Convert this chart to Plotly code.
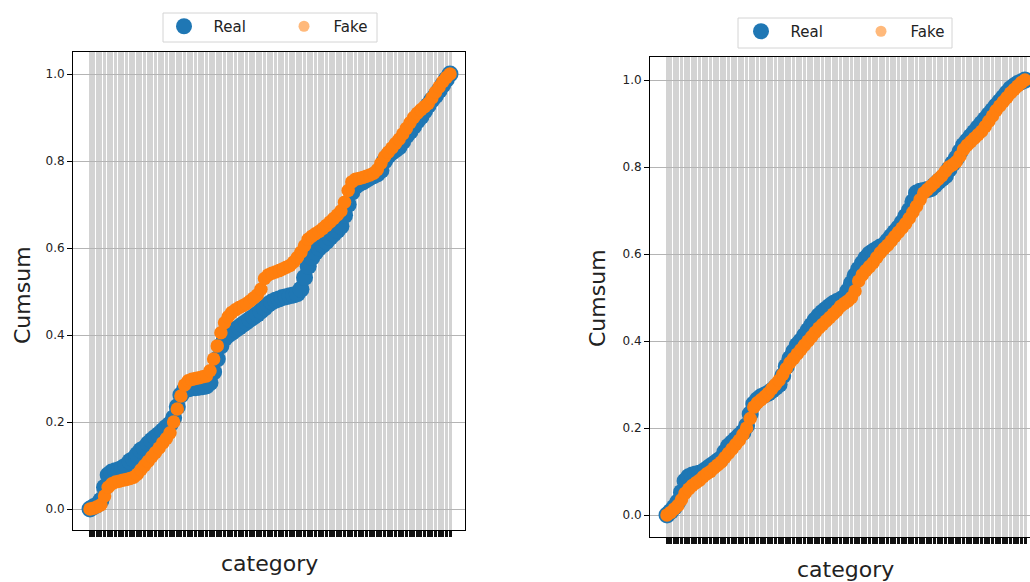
import plotly.graph_objects as go

# Category axis (labels are not printed, only tick marks)
categories = [f"cat_{i:03d}" for i in range(100)]

# Cumulative share per category, first panel
real_left = [
    0.000, 0.005, 0.010, 0.020, 0.050, 0.078, 0.085, 0.088, 0.090, 0.095,
    0.100, 0.110, 0.115, 0.125, 0.135, 0.140, 0.150, 0.158, 0.165, 0.172,
    0.180, 0.188, 0.195, 0.210, 0.235, 0.262, 0.274, 0.276, 0.278, 0.279,
    0.280, 0.281, 0.283, 0.290, 0.315, 0.345, 0.375, 0.392, 0.400, 0.406,
    0.412, 0.418, 0.424, 0.430, 0.436, 0.442, 0.448, 0.455, 0.462, 0.470,
    0.476, 0.480, 0.483, 0.486, 0.488, 0.490, 0.492, 0.495, 0.505, 0.532,
    0.558, 0.578, 0.590, 0.600, 0.607, 0.615, 0.624, 0.632, 0.640, 0.650,
    0.675, 0.700, 0.728, 0.742, 0.748, 0.752, 0.757, 0.762, 0.766, 0.770,
    0.778, 0.800, 0.812, 0.820, 0.826, 0.832, 0.845, 0.858, 0.868, 0.880,
    0.892, 0.902, 0.915, 0.928, 0.940, 0.950, 0.962, 0.975, 0.988, 1.000,
]
fake_left = [
    0.000, 0.002, 0.005, 0.010, 0.030, 0.050, 0.058, 0.062, 0.064, 0.066,
    0.068, 0.070, 0.073, 0.080, 0.090, 0.100, 0.110, 0.120, 0.130, 0.140,
    0.152, 0.162, 0.175, 0.200, 0.230, 0.260, 0.285, 0.295, 0.298, 0.300,
    0.302, 0.304, 0.306, 0.318, 0.345, 0.375, 0.405, 0.428, 0.442, 0.452,
    0.458, 0.463, 0.467, 0.472, 0.478, 0.485, 0.492, 0.505, 0.530, 0.538,
    0.542, 0.545, 0.548, 0.552, 0.556, 0.560, 0.568, 0.578, 0.590, 0.605,
    0.620, 0.627, 0.633, 0.638, 0.645, 0.652, 0.660, 0.668, 0.676, 0.685,
    0.705, 0.732, 0.752, 0.758, 0.760, 0.762, 0.765, 0.768, 0.772, 0.780,
    0.795, 0.810, 0.820, 0.830, 0.840, 0.850, 0.862, 0.875, 0.888, 0.900,
    0.910, 0.918, 0.925, 0.932, 0.945, 0.958, 0.970, 0.982, 0.992, 1.000,
]

# Cumulative share per category, second panel
real_right = [
    0.000, 0.008, 0.018, 0.030, 0.052, 0.078, 0.088, 0.092, 0.094, 0.096,
    0.100, 0.106, 0.112, 0.118, 0.124, 0.130, 0.145, 0.158, 0.166, 0.174,
    0.182, 0.190, 0.205, 0.232, 0.255, 0.265, 0.272, 0.276, 0.280, 0.286,
    0.293, 0.300, 0.320, 0.342, 0.360, 0.375, 0.390, 0.400, 0.412, 0.424,
    0.436, 0.448, 0.458, 0.466, 0.473, 0.480, 0.486, 0.491, 0.495, 0.500,
    0.515, 0.532, 0.550, 0.565, 0.578, 0.590, 0.600, 0.606, 0.611, 0.616,
    0.620, 0.630, 0.640, 0.650, 0.660, 0.672, 0.686, 0.700, 0.720, 0.740,
    0.744, 0.746, 0.748, 0.750, 0.758, 0.766, 0.773, 0.780, 0.795, 0.808,
    0.820, 0.835, 0.850, 0.860, 0.870, 0.880, 0.890, 0.900, 0.910, 0.920,
    0.930, 0.940, 0.950, 0.960, 0.970, 0.980, 0.986, 0.992, 0.996, 1.000,
]
fake_right = [
    0.000, 0.006, 0.014, 0.022, 0.035, 0.050, 0.060, 0.068, 0.074, 0.080,
    0.088, 0.095, 0.100, 0.108, 0.115, 0.122, 0.132, 0.142, 0.152, 0.162,
    0.172, 0.185, 0.200, 0.222, 0.248, 0.258, 0.265, 0.272, 0.280, 0.290,
    0.300, 0.310, 0.323, 0.337, 0.350, 0.360, 0.370, 0.380, 0.390, 0.400,
    0.410, 0.420, 0.430, 0.438, 0.446, 0.454, 0.462, 0.470, 0.480, 0.486,
    0.492, 0.500, 0.515, 0.538, 0.552, 0.562, 0.571, 0.580, 0.592, 0.603,
    0.612, 0.620, 0.630, 0.640, 0.650, 0.660, 0.670, 0.682, 0.696, 0.710,
    0.725, 0.740, 0.748, 0.756, 0.764, 0.772, 0.780, 0.790, 0.800, 0.805,
    0.812, 0.825, 0.840, 0.850, 0.858, 0.866, 0.874, 0.882, 0.893, 0.905,
    0.917, 0.930, 0.940, 0.950, 0.960, 0.970, 0.978, 0.986, 0.994, 1.000,
]

y_ticks = [0.0, 0.2, 0.4, 0.6, 0.8, 1.0]
y_tick_text = ["0.0", "0.2", "0.4", "0.6", "0.8", "1.0"]

BLUE = "#1f77b4"
ORANGE = "#ff7f0e"
FONT = "DejaVu Sans"
W, H = 1030, 582
NBSP = "\u00a0"


def px_x(p):
    return p / W


def px_y(p):
    return (H - p) / H


fig = go.Figure()

panels = [
    ("x", "y", "legend", real_left, fake_left),
    ("x2", "y2", "legend2", real_right, fake_right),
]
for xa, ya, lg, real_vals, fake_vals in panels:
    fig.add_trace(go.Scatter(
        x=categories, y=real_vals, mode="markers", name=NBSP * 2 + "Real",
        xaxis=xa, yaxis=ya, legend=lg,
        marker=dict(color=BLUE, size=17, line=dict(width=0)),
    ))
    # the many overlapping points render as a solid band
    fig.add_trace(go.Scatter(
        x=categories, y=fake_vals, mode="markers", name="Fake",
        xaxis=xa, yaxis=ya, showlegend=False,
        marker=dict(color=ORANGE, size=13.5, line=dict(width=0)),
    ))
    # legend key for the semi-transparent Fake markers
    fig.add_trace(go.Scatter(
        x=[None], y=[None], mode="markers", name=NBSP * 2 + "Fake",
        xaxis=xa, yaxis=ya, legend=lg,
        marker=dict(color=ORANGE, size=11, opacity=0.55, line=dict(width=0)),
    ))

xaxis_common = dict(
    type="category", showticklabels=False, ticks="outside", ticklen=6,
    tickwidth=2.5, tickcolor="#111", showgrid=True, gridcolor="#d3d3d3",
    gridwidth=3, showline=True, linecolor="black", linewidth=1,
    mirror=True, zeroline=False, dtick=1,
)
yaxis_common = dict(
    tickvals=y_ticks, ticktext=y_tick_text, ticks="outside", ticklen=5,
    tickwidth=1, tickcolor="black", showgrid=True, gridcolor="#b4b4b4",
    gridwidth=1.3, showline=True, linecolor="black", linewidth=1,
    zeroline=False, tickfont=dict(family=FONT, size=12, color="#222"),
)

n = len(categories)
left_span = (450 - 90) / (n - 1)
right_span = (1025 - 667) / (n - 1)

legend_common = dict(
    orientation="h", xanchor="left", yanchor="top",
    bgcolor="rgba(0,0,0,0)", borderwidth=0,
    font=dict(family=FONT, size=15, color="#222"), itemsizing="trace",
    entrywidth=75,
)

fig.update_layout(
    width=W, height=H,
    margin=dict(l=0, r=0, t=0, b=0),
    paper_bgcolor="white", plot_bgcolor="white",
    font=dict(family=FONT, color="#222"),
    xaxis=dict(
        **xaxis_common, domain=[px_x(73), px_x(465)], anchor="y",
        range=[(73 - 90) / left_span, (465 - 90) / left_span],
    ),
    yaxis=dict(
        **yaxis_common, mirror=True, domain=[px_y(530), px_y(52)], anchor="x",
        range=[-(530 - 509) / 435, (509 - 52) / 435],
    ),
    xaxis2=dict(
        **xaxis_common, domain=[px_x(650), 1.0], anchor="y2",
        range=[(650 - 667) / right_span, (1030 - 667) / right_span],
    ),
    yaxis2=dict(
        **yaxis_common, mirror=False, domain=[px_y(537), px_y(57)], anchor="x2",
        range=[-(537 - 515) / 435, (515 - 57) / 435],
    ),
    legend=dict(**legend_common, x=px_x(164), y=px_y(10)),
    legend2=dict(**legend_common, x=px_x(741), y=px_y(15)),
)

# legend frames
for x0, y0, x1, y1 in [(163, 13, 377, 42), (738, 18, 952, 48)]:
    fig.add_shape(
        type="rect", xref="paper", yref="paper",
        x0=px_x(x0), x1=px_x(x1), y0=px_y(y1), y1=px_y(y0),
        line=dict(color="#d4d4d4", width=1), fillcolor="white", layer="below",
    )

annotations = [
    dict(text="category", x=px_x(269), y=px_y(563)),
    dict(text="category", x=px_x(845), y=px_y(569)),
    dict(text="Cumsum", x=px_x(22), y=px_y(295), textangle=-90),
    dict(text="Cumsum", x=px_x(597), y=px_y(298), textangle=-90),
]
for a in annotations:
    fig.add_annotation(
        xref="paper", yref="paper", showarrow=False, xanchor="center",
        yanchor="middle", font=dict(family=FONT, size=22, color="#222"), **a,
    )

fig.write_html("out.html")
